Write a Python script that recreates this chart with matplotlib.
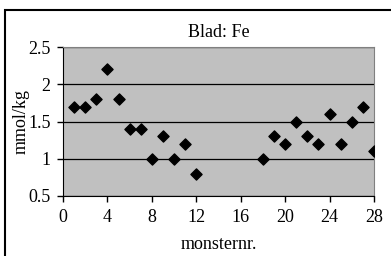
import numpy as np
import matplotlib.pyplot as plt
from matplotlib.patches import Rectangle

plt.rcParams['font.family'] = ['Liberation Serif', 'DejaVu Serif']

monster = [1, 2, 3, 4, 5, 6, 7, 8, 9, 10, 11, 12,
           18, 19, 20, 21, 22, 23, 24, 25, 26, 27, 28]
fe = [1.7, 1.7, 1.8, 2.2, 1.8, 1.4, 1.4, 1.0, 1.3, 1.0, 1.2, 0.8,
      1.0, 1.3, 1.2, 1.5, 1.3, 1.2, 1.6, 1.2, 1.5, 1.7, 1.1]

fig = plt.figure(figsize=(3.91, 2.56), dpi=100)
ax = fig.add_axes([63/391, 1 - 196/256, (374 - 63)/391, (196 - 47)/256])

# outer chart border (only left and top are visible in the crop)
fig.patches.append(Rectangle((5/391, -0.1), 1.2, 1 - 10/256 + 0.1,
                             transform=fig.transFigure, fill=False,
                             edgecolor='black', linewidth=1.5))

ax.set_facecolor('#c0c0c0')
ax.scatter(monster, fe, marker='D', s=32, color='black', zorder=3)

ax.set_xlim(0, 28)
ax.set_ylim(0.5, 2.5)
ax.set_xticks(np.arange(0, 29, 4))
ax.set_yticks([0.5, 1, 1.5, 2, 2.5])
ax.set_yticklabels(['0.5', '1', '1.5', '2', '2.5'])
ax.yaxis.grid(True, color='black', linewidth=0.9)
ax.set_axisbelow(True)

for s in ['top', 'right']:
    ax.spines[s].set_color('#808080')
for s in ['left', 'bottom']:
    ax.spines[s].set_color('black')

ax.tick_params(direction='out', length=4, width=1, labelsize=13, pad=5)
ax.tick_params(axis='y', pad=5)

ax.set_title('Blad: Fe', fontsize=13, pad=7)
ax.set_xlabel('monsternr.', fontsize=13, labelpad=-4)
ax.xaxis.set_label_coords(0.5, -0.27)
ax.set_ylabel('mmol/kg', fontsize=13)
ax.yaxis.set_label_coords(-0.106, 0.5)

fig.savefig('out.png', dpi=100)
